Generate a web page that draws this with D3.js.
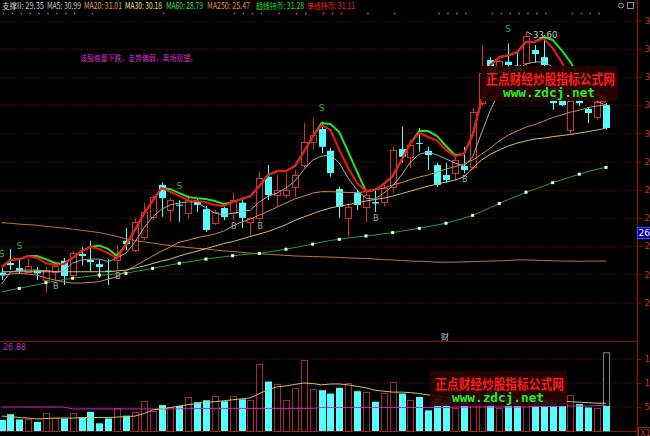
<!DOCTYPE html>
<html><head><meta charset="utf-8">
<script src="https://cdn.jsdelivr.net/npm/d3@7/dist/d3.min.js"></script>
<style>html,body{margin:0;padding:0;background:#000;overflow:hidden}svg{display:block}</style>
</head><body><svg id="c" width="650" height="436"></svg>
<script>
// ---------- data ----------
const opens  = [25.06,25.40,25.22,25.08,25.13,24.80,25.08,25.48,24.97,25.72,25.51,25.36,25.13,25.51,26.19,25.86,26.33,27.04,28.17,27.28,27.47,27.17,27.60,27.31,26.83,27.35,27.17,27.54,26.85,27.00,28.46,27.81,27.81,28.10,28.87,29.70,30.15,29.38,28.02,27.00,27.88,27.40,27.56,27.57,28.10,29.44,29.17,29.66,29.38,28.87,28.52,28.59,28.84,28.81,31.07,32.60,31.80,32.54,32.40,32.49,32.95,32.70,31.71,31.18,30.12,31.18,30.86,30.58,31.00];
const highs  = [25.22,25.90,25.51,25.58,25.26,25.26,25.44,25.58,25.83,25.97,26.19,25.51,25.54,26.04,26.64,26.99,27.53,27.81,28.25,27.70,27.63,27.81,27.70,27.42,27.28,27.40,27.88,27.63,27.04,28.64,28.87,28.52,28.59,28.70,30.36,30.54,30.41,29.48,28.10,27.53,27.99,27.93,28.06,28.17,29.52,30.23,29.76,30.19,29.52,28.95,28.95,29.17,29.52,30.90,33.13,32.70,32.60,33.19,32.85,33.60,33.13,33.48,32.00,31.36,31.30,31.30,30.93,31.18,31.07];
const lows   = [24.80,25.15,25.04,25.04,24.80,24.34,24.80,24.62,24.90,25.33,25.09,24.87,24.62,25.15,25.86,25.79,26.21,26.92,27.04,26.85,26.86,26.99,27.21,26.50,26.75,26.92,26.92,26.64,26.33,26.92,27.63,27.40,27.70,27.75,28.77,29.41,29.30,28.46,27.00,26.33,27.28,26.86,27.21,27.40,27.88,28.95,28.77,29.35,28.70,28.10,28.24,28.34,28.59,28.70,30.97,31.50,31.50,32.07,31.80,32.30,32.50,32.20,30.83,30.97,29.98,30.97,30.36,30.47,30.12];
const closes = [24.96,25.33,25.12,25.29,25.03,25.15,25.29,24.94,25.75,25.65,25.43,25.26,25.09,25.76,26.07,26.86,27.22,27.75,27.70,27.63,27.44,27.63,27.46,26.57,27.22,27.03,27.63,27.00,27.00,28.41,27.81,27.99,27.99,28.52,29.70,29.94,29.52,28.59,27.40,27.40,27.46,27.81,27.51,28.06,29.41,29.17,29.58,29.63,29.23,28.17,28.34,29.05,28.70,30.76,32.14,31.90,32.55,32.42,32.00,33.45,32.81,32.42,31.07,31.00,31.14,31.07,30.72,31.11,30.19];
const volumes = [2.3,3.5,2.4,2.5,1.9,3.8,2.8,2.6,3.8,2.8,4.0,1.6,2.6,4.7,3.2,4.0,6.3,4.2,5.4,4.9,5.2,7.0,6.0,6.4,7.2,6.2,7.3,6.6,6.4,13.9,10.3,9.8,6.5,8.9,14.8,8.7,8.5,7.8,9.0,10.1,8.3,8.1,6.1,7.9,10.2,7.8,6.5,7.1,4.3,6.8,5.9,4.7,6.2,8.5,11.5,9.0,4.7,7.0,6.0,7.0,6.0,6.5,6.0,5.8,7.6,5.6,4.9,4.7,5.2];
const forecastVolume = 16.3;
const ma5   = [24.65,25.08,25.15,25.15,25.15,25.12,25.10,25.12,25.40,25.51,25.54,25.54,25.45,25.58,25.75,26.14,26.64,27.03,27.31,27.46,27.53,27.57,27.56,27.35,27.17,27.10,27.17,27.21,27.28,27.56,27.77,27.88,28.06,28.31,28.70,29.05,29.19,29.23,28.95,28.41,27.99,27.70,27.67,27.88,28.13,28.52,28.98,29.26,29.34,29.23,29.09,28.95,28.84,29.16,30.01,30.83,31.46,31.89,32.24,32.46,32.53,32.53,32.35,31.96,31.53,31.29,31.18,31.14,30.99];
const ma20  = [24.97,25.01,25.03,25.01,24.97,24.87,24.80,24.73,24.69,24.69,24.71,24.74,24.83,24.91,25.12,25.29,25.47,25.65,25.82,25.97,26.14,26.21,26.30,26.36,26.43,26.53,26.71,26.85,26.96,27.10,27.24,27.38,27.53,27.67,27.77,27.88,27.93,27.93,27.92,27.90,27.90,27.93,27.99,28.06,28.17,28.25,28.36,28.45,28.52,28.63,28.73,28.82,28.91,29.05,29.26,29.48,29.73,29.94,30.08,30.22,30.31,30.43,30.56,30.65,30.75,30.82,30.91,30.97,31.01];
const ma30  = [25.09,25.09,25.09,25.09,25.09,25.09,25.09,25.09,25.09,25.09,25.09,25.09,25.09,25.12,25.15,25.22,25.29,25.38,25.47,25.54,25.65,25.74,25.82,25.91,26.00,26.09,26.16,26.25,26.34,26.43,26.52,26.64,26.76,26.91,27.03,27.15,27.26,27.35,27.42,27.47,27.53,27.60,27.65,27.70,27.77,27.86,27.95,28.04,28.13,28.20,28.27,28.34,28.45,28.77,29.05,29.26,29.41,29.55,29.65,29.73,29.80,29.83,29.88,29.92,29.96,30.01,30.06,30.12,30.18];
const ma60  = [24.37,24.44,24.50,24.57,24.63,24.70,24.76,24.81,24.86,24.90,24.94,24.97,24.99,25.02,25.03,25.10,25.15,25.21,25.27,25.33,25.39,25.44,25.49,25.54,25.58,25.62,25.66,25.69,25.72,25.74,25.79,25.84,25.89,25.95,26.01,26.07,26.14,26.20,26.24,26.29,26.32,26.36,26.39,26.44,26.48,26.53,26.58,26.63,26.69,26.75,26.81,26.90,26.99,27.09,27.23,27.37,27.51,27.65,27.77,27.91,28.02,28.13,28.25,28.35,28.45,28.55,28.64,28.73,28.79];
const ma250 = [26.83,26.81,26.78,26.76,26.74,26.70,26.67,26.64,26.60,26.56,26.52,26.48,26.41,26.34,26.26,26.20,26.15,26.11,26.06,26.02,25.98,25.95,25.92,25.90,25.86,25.83,25.81,25.78,25.75,25.73,25.71,25.69,25.67,25.65,25.64,25.63,25.62,25.61,25.60,25.58,25.57,25.56,25.54,25.52,25.51,25.49,25.47,25.46,25.45,25.43,25.43,25.43,25.44,25.45,25.46,25.47,25.48,25.49,25.51,25.51,25.50,25.49,25.48,25.47,25.47,25.46,25.47,25.47,25.47];
const trendHold = [25.26,25.51,25.54,25.65,25.65,25.54,25.40,25.36,25.58,25.82,25.97,26.02,25.90,25.65,26.04,26.57,27.14,27.60,28.06,28.02,27.88,27.74,27.70,27.67,27.60,27.49,27.56,27.67,27.77,28.13,28.52,28.66,28.66,28.84,29.34,29.87,30.36,30.33,30.04,29.34,28.63,27.95,27.99,28.20,28.48,29.05,29.65,30.08,30.08,29.90,29.55,29.23,29.26,29.94,31.18,32.42,32.70,32.77,32.88,33.24,33.25,33.41,33.31,32.95,32.53,31.96,31.53,31.36,31.28];
const singleHold = [25.26,25.51,25.54,25.65,25.58,25.40,25.33,25.36,25.58,25.82,25.97,25.90,25.75,25.58,26.04,26.57,27.14,27.60,28.06,27.92,27.77,27.63,27.60,27.56,27.46,27.42,27.56,27.67,27.77,28.13,28.52,28.66,28.66,28.84,29.34,29.87,30.29,30.12,29.41,28.77,28.24,27.95,27.99,28.20,28.48,29.05,29.65,30.01,29.87,29.73,29.41,29.19,29.26,29.94,31.18,32.42,32.70,32.77,32.88,33.24,33.25,33.36,33.02,32.53,31.89,31.46,31.25,31.18,31.11];
const volMa5  = [3.1,3.0,2.8,2.7,2.5,2.6,2.7,2.7,2.7,2.8,2.8,2.8,2.8,2.9,3.0,3.1,3.6,4.4,4.6,4.9,5.2,5.5,5.7,6.0,6.1,6.3,6.5,6.7,6.9,7.8,8.6,9.2,9.4,9.7,10.0,9.9,9.6,9.8,9.8,9.6,9.3,9.0,8.5,8.3,8.1,8.1,8.0,7.8,7.5,7.3,7.0,6.8,6.6,6.8,7.4,7.8,7.6,7.3,6.9,6.8,6.5,6.4,6.4,6.25,6.1,6.0,5.9,5.8,5.8];
const volMa60 = [5.0,5.0,5.0,5.0,5.0,5.0,5.0,5.0,4.6,4.6,4.6,4.6,4.6,4.6,4.6,4.6,4.6,4.6,4.6,4.6,4.6,4.7,4.7,4.7,4.7,4.7,4.7,4.7,4.7,4.7,4.7,4.7,4.7,4.7,4.7,4.7,4.9,4.9,4.9,4.9,4.9,4.9,4.9,4.9,4.9,4.9,4.9,4.9,4.9,4.9,4.9,5.0,5.0,5.0,5.0,5.0,5.0,5.0,5.0,5.0,5.1,5.1,5.1,5.2,5.2,5.2,5.2,5.3,5.3];
const sellSignals = [0,2,20,36,57];
const buySignals  = [6,13,26,29,42,52];
const markerDots  = [0,1,2,3,4,5,6,7,8,10,18,26,27,28,29,31,33,34,36,37,38,41,44,49,50,51,52,55,56,57,58,59,60,61,64,65,66,67];
const priceTicks = [24,25,26,27,28,29,30,31,32,33,34];
const volTicks = [5,10,15];
const legendLabels = ["支撑II","MA5","MA20","MA30","MA60","MA250","趋线持币","单线持币"];
const legendValues = ["29.35","30.99","31.01","30.18","28.79","25.47","31.28","31.11"];
const highMark = "33.60";
const cursorPrice = "26.4";
const volTopLabel = "26.88";
const noteText = "该股缩量下跌，走势偏弱，离场观望。";

// ---------- drawing ----------
const N = closes.length;
const svg = d3.select("#c");
svg.append("rect").attr("width",650).attr("height",436).attr("fill","#000");
const x = d3.scaleLinear().domain([0,N-1]).range([1.5,606]);
const yP = d3.scaleLinear().domain([24,34]).range([302.5,20.5]);
const yV = d3.scaleLinear().domain([0,15]).range([431,359]);
const AXX = 637.5;
const font = "'Noto Sans CJK SC','DejaVu Sans',sans-serif";

// grids
svg.append("g").selectAll("line").data(priceTicks).join("line")
  .attr("x1",0).attr("x2",AXX).attr("y1",d=>Math.round(yP(d))+0.5).attr("y2",d=>Math.round(yP(d))+0.5)
  .attr("stroke","#5e0c0c").attr("stroke-dasharray","1,2");
svg.append("g").selectAll("line").data(volTicks).join("line")
  .attr("x1",0).attr("x2",AXX).attr("y1",d=>Math.round(yV(d))+0.5).attr("y2",d=>Math.round(yV(d))+0.5)
  .attr("stroke","#5e0c0c").attr("stroke-dasharray","1,2");
svg.append("line").attr("x1",0).attr("x2",AXX).attr("y1",341.5).attr("y2",341.5).attr("stroke","#8c1010");
svg.append("line").attr("x1",0).attr("x2",AXX).attr("y1",431.5).attr("y2",431.5).attr("stroke","#8c1010");
svg.append("line").attr("x1",AXX).attr("x2",AXX).attr("y1",0).attr("y2",436).attr("stroke","#b00000");

// axes
const pa = svg.append("g").attr("transform",`translate(${AXX},0)`)
  .call(d3.axisRight(yP).tickValues(priceTicks).tickFormat(d3.format(".2f")).tickSize(4).tickPadding(3));
const va = svg.append("g").attr("transform",`translate(${AXX},0)`)
  .call(d3.axisRight(yV).tickValues(volTicks).tickFormat(d3.format("d")).tickSize(4).tickPadding(3));
[pa,va].forEach(g=>{
  g.select(".domain").remove();
  g.selectAll(".tick line").attr("stroke","#b00000");
  g.selectAll(".tick text").attr("fill","#d03030").style("font-family","'DejaVu Sans',sans-serif").style("font-size","9px");
});

// moving averages (thin)
const line = d3.line().x((d,i)=>x(i)).y(d=>yP(d));
const maDefs = [[ma250,"#c0782e"],[ma60,"#2fa02f"],[ma30,"#cfc46a"],[ma20,"#d08a48"],[ma5,"#a8a8a8"]];

// candles
const cg = svg.append("g");
for(let i=0;i<N;i++){
  const up = closes[i] >= opens[i];
  const col = up ? "#d83030" : "#54ffff";
  const cx = Math.round(x(i))+0.5;
  cg.append("line").attr("x1",cx).attr("x2",cx).attr("y1",yP(highs[i])).attr("y2",yP(lows[i])).attr("stroke",col);
  const t = yP(Math.max(opens[i],closes[i])), b = yP(Math.min(opens[i],closes[i]));
  const h = Math.max(1,b-t);
  if(up){
    cg.append("rect").attr("x",cx-3).attr("y",Math.round(t)+0.5).attr("width",6).attr("height",Math.max(1,Math.round(h)))
      .attr("fill","#000").attr("stroke",col);
  } else {
    cg.append("rect").attr("x",cx-3.5).attr("y",t).attr("width",7).attr("height",h).attr("fill",col);
  }
}

maDefs.forEach(([arr,c])=>{
  svg.append("path").datum(arr).attr("d",line).attr("fill","none").attr("stroke",c).attr("stroke-width",1);
});
// MA60 dots
svg.append("g").selectAll("rect").data(ma60.map((v,i)=>[i,v]).filter(d=>d[0]%3===2)).join("rect")
  .attr("x",d=>x(d[0])-1.5).attr("y",d=>yP(d[1])-1.5).attr("width",3).attr("height",3).attr("fill","#e8ffe8");

// thick hold lines
svg.append("path").datum(trendHold).attr("d",line).attr("fill","none").attr("stroke","#22e622").attr("stroke-width",2);
svg.append("path").datum(singleHold).attr("d",line).attr("fill","none").attr("stroke","#ff1010").attr("stroke-width",2);

// signals
svg.append("g").selectAll("text").data(sellSignals).join("text")
  .attr("x",i=>x(i)).attr("y",i=>yP(highs[i])-11).attr("text-anchor","middle")
  .attr("fill","#2eb82e").style("font","9px 'DejaVu Sans',sans-serif").text("S");
svg.append("g").selectAll("text").data(buySignals).join("text")
  .attr("x",i=>x(i)+1).attr("y",i=>yP(lows[i])+9).attr("text-anchor","middle")
  .attr("fill","#a8a8a8").style("font","8px 'DejaVu Sans',sans-serif").text("B");

// high annotation
const hi = highs.indexOf(d3.max(highs));
svg.append("line").attr("x1",x(hi)+1).attr("y1",yP(highs[hi])).attr("x2",x(hi)+6).attr("y2",yP(highs[hi])+3).attr("stroke","#c8c8c8");
svg.append("text").attr("x",x(hi)+7).attr("y",yP(highs[hi])+6).attr("fill","#d0d0d0")
  .style("font","8.5px 'DejaVu Sans',sans-serif").text(highMark);

// note
svg.append("text").attr("x",80).attr("y",61).attr("fill","#d030d0").style("font",`8px ${font}`)
  .attr("textLength",117).attr("lengthAdjust","spacingAndGlyphs").text(noteText);

// legend
const legX=[2,47,84,125,166,207,256,307], legW=[42,34,38,37,37,43,48,48];
const legC=["#c8c8c8","#c8c8c8","#e0a040","#e6e28a","#3ee03e","#e09040","#22e022","#ff2020"];
legendLabels.forEach((l,k)=>{
  svg.append("text").attr("x",legX[k]).attr("y",9).attr("fill",legC[k]).style("font",`8.5px ${font}`)
    .attr("textLength",legW[k]).attr("lengthAdjust","spacingAndGlyphs").text(`${l}: ${legendValues[k]}`);
});
svg.append("g").selectAll("circle").data(markerDots).join("circle")
  .attr("cx",i=>x(i)+2).attr("cy",13.5).attr("r",0.9).attr("fill","#c8389a");
// icons top right
svg.append("circle").attr("cx",621).attr("cy",5.5).attr("r",2.5).attr("fill","none").attr("stroke","#909090");
svg.append("rect").attr("x",627.5).attr("y",2.5).attr("width",6).attr("height",6).attr("fill","none").attr("stroke","#909090");

// volume
const vg = svg.append("g");
vg.append("rect").attr("x",Math.round(x(N-1))-2.5).attr("y",yV(forecastVolume)).attr("width",6).attr("height",yV(0)-yV(forecastVolume))
  .attr("fill","none").attr("stroke","#8a8a6a");
volumes.forEach((v,i)=>{
  const up = closes[i] >= opens[i];
  const cx = Math.round(x(i))+0.5;
  if(up){
    vg.append("rect").attr("x",cx-3).attr("y",Math.round(yV(v))+0.5).attr("width",6).attr("height",Math.round(yV(0)-yV(v)))
      .attr("fill","none").attr("stroke","#a82a2a");
  } else {
    vg.append("rect").attr("x",cx-3.5).attr("y",yV(v)).attr("width",7).attr("height",yV(0)-yV(v)).attr("fill","#54ffff");
  }
});
const vline = d3.line().x((d,i)=>x(i)).y(d=>yV(d));
svg.append("path").datum(volMa60).attr("d",vline).attr("fill","none").attr("stroke","#d020d0");
svg.append("path").datum(volMa5).attr("d",vline).attr("fill","none").attr("stroke","#c8c864");
svg.append("text").attr("x",3).attr("y",349.5).attr("fill","#c030c0").style("font","8px 'DejaVu Sans',sans-serif").text(volTopLabel);
svg.append("text").attr("x",445).attr("y",340).attr("text-anchor","middle").attr("fill","#b8c8e8").style("font",`8px ${font}`).text("财");
svg.append("rect").attr("x",638.5).attr("y",427.5).attr("width",14).attr("height",10).attr("fill","none").attr("stroke","#803030");
svg.append("text").attr("x",640).attr("y",435.5).attr("fill","#c04040").style("font","8px 'DejaVu Sans',sans-serif").text("X10");

// cursor price box
svg.append("rect").attr("x",637.5).attr("y",227.5).attr("width",14).attr("height",11).attr("fill","#0000a0").attr("stroke","#3a50ff");
svg.append("text").attr("x",638.5).attr("y",236).attr("fill","#ffffff").style("font","9px 'DejaVu Sans',sans-serif").text(cursorPrice);

// watermarks
function watermark(ox,oy){
  const g = svg.append("g").attr("transform",`translate(${ox},${oy})`);
  g.append("rect").attr("width",137).attr("height",35).attr("fill","#2a0202").attr("opacity",0.93);
  g.append("text").attr("x",5).attr("y",18).attr("fill","#ff1c1c").style("font",`bold 13.5px ${font}`)
    .attr("textLength",129).attr("lengthAdjust","spacingAndGlyphs").text("正点财经炒股指标公式网");
  g.append("text").attr("x",22).attr("y",31).attr("fill","#22ee22").style("font","bold 12.5px 'DejaVu Sans Mono',monospace")
    .attr("textLength",92).attr("lengthAdjust","spacingAndGlyphs").text("www.zdcj.net");
}
watermark(481,66);
watermark(430,371);
</script></body></html>
